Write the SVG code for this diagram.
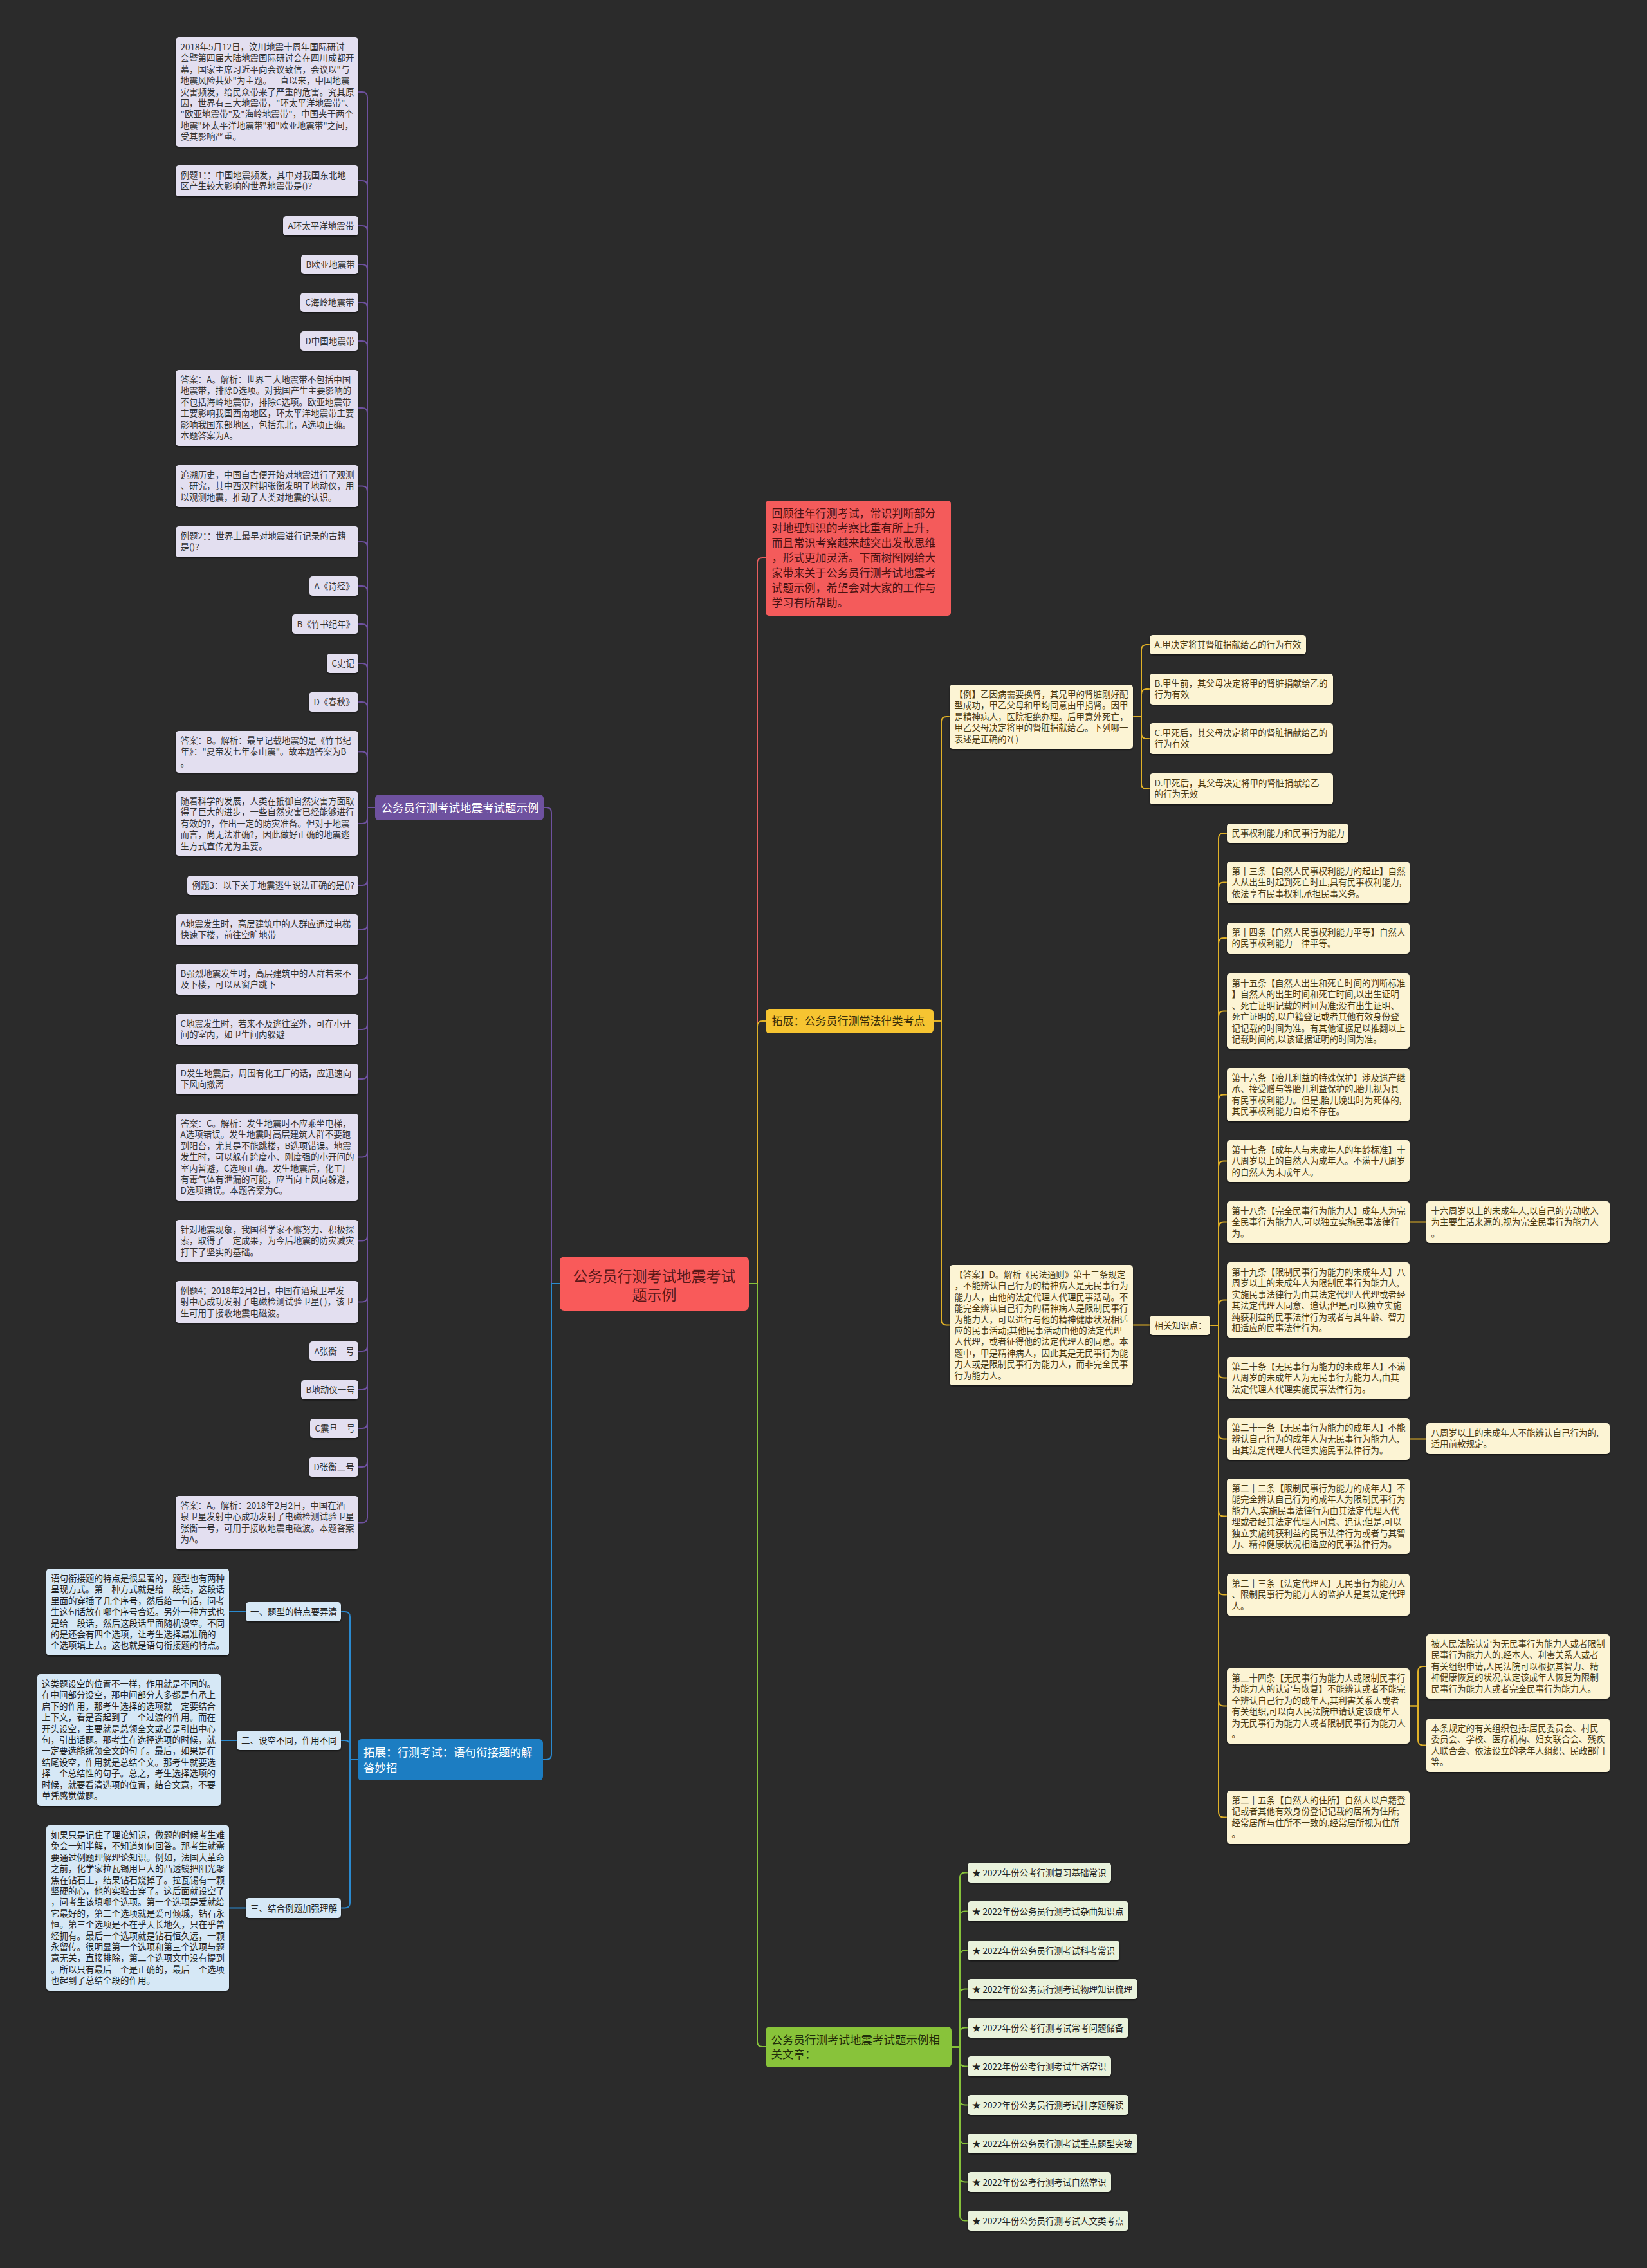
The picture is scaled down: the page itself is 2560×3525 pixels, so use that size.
<svg xmlns="http://www.w3.org/2000/svg" width="2560" height="3525" viewBox="0 0 2560 3525">
<defs>
<style>
text{font-family:"Noto Sans CJK SC","Noto Sans",sans-serif;}
.t{font-size:13.5px;}
.bp{fill:#e3dff0;filter:url(#sh);}
.bb{fill:#d6e8f6;filter:url(#sh);}
.by{fill:#fcf4d4;filter:url(#sh);}
.bg{fill:#e9f2dc;filter:url(#sh);}
.tp{fill:#333333;}
.tb{fill:#222222;}
.ty{fill:#4a3a12;}
.tg{fill:#222222;}
.cp{fill:none;stroke:#6e519f;stroke-width:2;}
.cb{fill:none;stroke:#2a8ad0;stroke-width:2;}
.cr{fill:none;stroke:#e65e5e;stroke-width:2;}
.cy{fill:none;stroke:#e0b127;stroke-width:2;}
.cg{fill:none;stroke:#86c23a;stroke-width:2;}
</style>
<filter id="sh" x="-5%" y="-5%" width="110%" height="120%">
<feDropShadow dx="0" dy="1.5" stdDeviation="0.8" flood-color="#000" flood-opacity="0.55"/>
</filter>
</defs>
<rect x="0" y="0" width="2560" height="3525" fill="#2b2b2b"/>

<g id="connectors">
<path class="cp" d="M870 1995H857V1263Q857 1255 849 1255H845"/>
<path class="cb" d="M870 1995H857V2727Q857 2735 849 2735H844"/>
<path class="cr" d="M1164 1995H1177V875Q1177 867 1185 867H1190"/>
<path class="cy" d="M1164 1995H1177V1595Q1177 1587 1185 1587H1190"/>
<path class="cg" d="M1164 1995H1177V3173Q1177 3181 1185 3181H1190"/>

<path class="cp" d="M583 1255H571V151Q571 143 563 143H557"/>
<path class="cp" d="M583 1255H571V289Q571 281 563 281H557"/>
<path class="cp" d="M583 1255H571V359Q571 351 563 351H557"/>
<path class="cp" d="M583 1255H571V419Q571 411 563 411H557"/>
<path class="cp" d="M583 1255H571V478Q571 470 563 470H557"/>
<path class="cp" d="M583 1255H571V538Q571 530 563 530H557"/>
<path class="cp" d="M583 1255H571V642Q571 634 563 634H557"/>
<path class="cp" d="M583 1255H571V763.5Q571 755.5 563 755.5H557"/>
<path class="cp" d="M583 1255H571V850Q571 842 563 842H557"/>
<path class="cp" d="M583 1255H571V919Q571 911 563 911H557"/>
<path class="cp" d="M583 1255H571V978Q571 970 563 970H557"/>
<path class="cp" d="M583 1255H571V1039Q571 1031 563 1031H557"/>
<path class="cp" d="M583 1255H571V1099Q571 1091 563 1091H557"/>
<path class="cp" d="M583 1255H571V1176.5Q571 1168.5 563 1168.5H557"/>
<path class="cp" d="M583 1255H571V1272Q571 1280 563 1280H557"/>
<path class="cp" d="M583 1255H571V1368Q571 1376 563 1376H557"/>
<path class="cp" d="M583 1255H571V1437Q571 1445 563 1445H557"/>
<path class="cp" d="M583 1255H571V1514Q571 1522 563 1522H557"/>
<path class="cp" d="M583 1255H571V1592Q571 1600 563 1600H557"/>
<path class="cp" d="M583 1255H571V1669Q571 1677 563 1677H557"/>
<path class="cp" d="M583 1255H571V1790.5Q571 1798.5 563 1798.5H557"/>
<path class="cp" d="M583 1255H571V1920.5Q571 1928.5 563 1928.5H557"/>
<path class="cp" d="M583 1255H571V2015.5Q571 2023.5 563 2023.5H557"/>
<path class="cp" d="M583 1255H571V2092Q571 2100 563 2100H557"/>
<path class="cp" d="M583 1255H571V2152Q571 2160 563 2160H557"/>
<path class="cp" d="M583 1255H571V2212Q571 2220 563 2220H557"/>
<path class="cp" d="M583 1255H571V2272Q571 2280 563 2280H557"/>
<path class="cp" d="M583 1255H571V2358.5Q571 2366.5 563 2366.5H557"/>

<path class="cb" d="M556 2735H544V2513Q544 2505 536 2505H530"/>
<path class="cb" d="M556 2735H544V2713Q544 2705 536 2705H530"/>
<path class="cb" d="M556 2735H544V2957.5Q544 2965.5 536 2965.5H530"/>
<path class="cb" d="M382 2505H356"/>
<path class="cb" d="M368 2705H343"/>
<path class="cb" d="M382 2965.5H356"/>

<path class="cy" d="M1451 1587H1463V1122Q1463 1114 1471 1114H1476"/>
<path class="cy" d="M1451 1587H1463V2051.5Q1463 2059.5 1471 2059.5H1476"/>
<path class="cy" d="M1761 1114H1774V1010Q1774 1002 1782 1002H1787"/>
<path class="cy" d="M1761 1114H1774V1079Q1774 1071 1782 1071H1787"/>
<path class="cy" d="M1761 1114H1774V1140Q1774 1148 1782 1148H1787"/>
<path class="cy" d="M1761 1114H1774V1218Q1774 1226 1782 1226H1787"/>
<path class="cy" d="M1761 2059.5H1787"/>
<path class="cy" d="M1881 2060H1894V1303Q1894 1295 1902 1295H1907"/>
<path class="cy" d="M1881 2060H1894V1379.5Q1894 1371.5 1902 1371.5H1907"/>
<path class="cy" d="M1881 2060H1894V1466Q1894 1458 1902 1458H1907"/>
<path class="cy" d="M1881 2060H1894V1579.5Q1894 1571.5 1902 1571.5H1907"/>
<path class="cy" d="M1881 2060H1894V1709.5Q1894 1701.5 1902 1701.5H1907"/>
<path class="cy" d="M1881 2060H1894V1812.5Q1894 1804.5 1902 1804.5H1907"/>
<path class="cy" d="M1881 2060H1894V1907.5Q1894 1899.5 1902 1899.5H1907"/>
<path class="cy" d="M1881 2060H1894V2028.5Q1894 2020.5 1902 2020.5H1907"/>
<path class="cy" d="M1881 2060H1894V2133.5Q1894 2141.5 1902 2141.5H1907"/>
<path class="cy" d="M1881 2060H1894V2228.5Q1894 2236.5 1902 2236.5H1907"/>
<path class="cy" d="M1881 2060H1894V2348.5Q1894 2356.5 1902 2356.5H1907"/>
<path class="cy" d="M1881 2060H1894V2470.5Q1894 2478.5 1902 2478.5H1907"/>
<path class="cy" d="M1881 2060H1894V2643.5Q1894 2651.5 1902 2651.5H1907"/>
<path class="cy" d="M1881 2060H1894V2816.5Q1894 2824.5 1902 2824.5H1907"/>
<path class="cy" d="M2191 1899.5H2217"/>
<path class="cy" d="M2191 2236.5H2217"/>
<path class="cy" d="M2191 2651.5H2204V2598Q2204 2590 2212 2590H2217"/>
<path class="cy" d="M2191 2651.5H2204V2704.5Q2204 2712.5 2212 2712.5H2217"/>

<path class="cg" d="M1479 3181.5H1492V2918.5Q1492 2910.5 1500 2910.5H1504"/>
<path class="cg" d="M1479 3181.5H1492V2978.5Q1492 2970.5 1500 2970.5H1504"/>
<path class="cg" d="M1479 3181.5H1492V3039.5Q1492 3031.5 1500 3031.5H1504"/>
<path class="cg" d="M1479 3181.5H1492V3099.5Q1492 3091.5 1500 3091.5H1504"/>
<path class="cg" d="M1479 3181.5H1492V3159.5Q1492 3151.5 1500 3151.5H1504"/>
<path class="cg" d="M1479 3181.5H1492V3203.5Q1492 3211.5 1500 3211.5H1504"/>
<path class="cg" d="M1479 3181.5H1492V3263.5Q1492 3271.5 1500 3271.5H1504"/>
<path class="cg" d="M1479 3181.5H1492V3323.5Q1492 3331.5 1500 3331.5H1504"/>
<path class="cg" d="M1479 3181.5H1492V3383.5Q1492 3391.5 1500 3391.5H1504"/>
<path class="cg" d="M1479 3181.5H1492V3443.5Q1492 3451.5 1500 3451.5H1504"/>
</g>

<g id="center"><rect x="870" y="1953" width="294" height="84" rx="7" fill="#f95a5a"/><text font-size="23" fill="#5a1818" text-anchor="middle"><tspan x="1017" y="1992">公务员行测考试地震考试</tspan><tspan x="1017" y="2021">题示例</tspan></text></g>

<g id="intro"><rect x="1190" y="778" width="288" height="179" rx="5" fill="#f45b5b"/><text font-size="17" fill="#4a1212"><tspan x="1199.5" y="803.5">回顾往年行测考试，常识判断部分</tspan><tspan x="1199.5" dy="23.3">对地理知识的考察比重有所上升，</tspan><tspan x="1199.5" dy="23.3">而且常识考察越来越突出发散思维</tspan><tspan x="1199.5" dy="23.3">，形式更加灵活。下面树图网给大</tspan><tspan x="1199.5" dy="23.3">家带来关于公务员行测考试地震考</tspan><tspan x="1199.5" dy="23.3">试题示例，希望会对大家的工作与</tspan><tspan x="1199.5" dy="23.3">学习有所帮助。</tspan></text></g>

<g id="branch-purple"><rect x="583" y="1235" width="262" height="40" rx="6" fill="#6e519f"/><text x="592.5" y="1261.5" font-size="17.5" fill="#ffffff">公务员行测考试地震考试题示例</text></g>

<g id="p1"><rect class="bp" x="273" y="58" width="284" height="170" rx="5"/><text class="t tp" y="78"><tspan x="280.5">2018年5月12日，汶川地震十周年国际研讨</tspan><tspan x="280.5" dy="17.4">会暨第四届大陆地震国际研讨会在四川成都开</tspan><tspan x="280.5" dy="17.4">幕，国家主席习近平向会议致信，会议以"与</tspan><tspan x="280.5" dy="17.4">地震风险共处"为主题。一直以来，中国地震</tspan><tspan x="280.5" dy="17.4">灾害频发，给民众带来了严重的危害。究其原</tspan><tspan x="280.5" dy="17.4">因，世界有三大地震带，"环太平洋地震带"、</tspan><tspan x="280.5" dy="17.4">"欧亚地震带"及"海岭地震带"，中国夹于两个</tspan><tspan x="280.5" dy="17.4">地震"环太平洋地震带"和"欧亚地震带"之间，</tspan><tspan x="280.5" dy="17.4">受其影响严重。</tspan></text></g>
<g id="p2"><rect class="bp" x="273" y="257" width="284" height="48" rx="5"/><text class="t tp" y="277"><tspan x="280.5">例题1：：中国地震频发，其中对我国东北地</tspan><tspan x="280.5" dy="17.4">区产生较大影响的世界地震带是()?</tspan></text></g>
<g id="p3"><rect class="bp" x="440" y="336" width="117" height="30" rx="5"/><text class="t tp" x="447.5" y="356">A环太平洋地震带</text></g>
<g id="p4"><rect class="bp" x="468" y="396" width="89" height="30" rx="5"/><text class="t tp" x="475.5" y="416">B欧亚地震带</text></g>
<g id="p5"><rect class="bp" x="467" y="455" width="90" height="30" rx="5"/><text class="t tp" x="474.5" y="475">C海岭地震带</text></g>
<g id="p6"><rect class="bp" x="467" y="515" width="90" height="30" rx="5"/><text class="t tp" x="474.5" y="535">D中国地震带</text></g>
<g id="p7"><rect class="bp" x="273" y="575" width="284" height="118" rx="5"/><text class="t tp" y="595"><tspan x="280.5">答案：A。解析：世界三大地震带不包括中国</tspan><tspan x="280.5" dy="17.4">地震带，排除D选项。对我国产生主要影响的</tspan><tspan x="280.5" dy="17.4">不包括海岭地震带，排除C选项。欧亚地震带</tspan><tspan x="280.5" dy="17.4">主要影响我国西南地区，环太平洋地震带主要</tspan><tspan x="280.5" dy="17.4">影响我国东部地区，包括东北，A选项正确。</tspan><tspan x="280.5" dy="17.4">本题答案为A。</tspan></text></g>
<g id="p8"><rect class="bp" x="273" y="723" width="284" height="65" rx="5"/><text class="t tp" y="743"><tspan x="280.5">追溯历史，中国自古便开始对地震进行了观测</tspan><tspan x="280.5" dy="17.4">、研究，其中西汉时期张衡发明了地动仪，用</tspan><tspan x="280.5" dy="17.4">以观测地震，推动了人类对地震的认识。</tspan></text></g>
<g id="p9"><rect class="bp" x="273" y="818" width="284" height="48" rx="5"/><text class="t tp" y="838"><tspan x="280.5">例题2：：世界上最早对地震进行记录的古籍</tspan><tspan x="280.5" dy="17.4">是()?</tspan></text></g>
<g id="p10"><rect class="bp" x="481" y="896" width="76" height="30" rx="5"/><text class="t tp" x="488.5" y="916">A《诗经》</text></g>
<g id="p11"><rect class="bp" x="454" y="955" width="103" height="30" rx="5"/><text class="t tp" x="461.5" y="975">B《竹书纪年》</text></g>
<g id="p12"><rect class="bp" x="508" y="1016" width="49" height="30" rx="5"/><text class="t tp" x="515.5" y="1036">C史记</text></g>
<g id="p13"><rect class="bp" x="480" y="1076" width="77" height="30" rx="5"/><text class="t tp" x="487.5" y="1096">D《春秋》</text></g>
<g id="p14"><rect class="bp" x="273" y="1136" width="284" height="65" rx="5"/><text class="t tp" y="1156"><tspan x="280.5">答案：B。解析：最早记载地震的是《竹书纪</tspan><tspan x="280.5" dy="17.4">年》："夏帝发七年泰山震"。故本题答案为B</tspan><tspan x="280.5" dy="17.4">。</tspan></text></g>
<g id="p15"><rect class="bp" x="273" y="1230" width="284" height="100" rx="5"/><text class="t tp" y="1250"><tspan x="280.5">随着科学的发展，人类在抵御自然灾害方面取</tspan><tspan x="280.5" dy="17.4">得了巨大的进步，一些自然灾害已经能够进行</tspan><tspan x="280.5" dy="17.4">有效的?，作出一定的防灾准备。但对于地震</tspan><tspan x="280.5" dy="17.4">而言，尚无法准确?，因此做好正确的地震逃</tspan><tspan x="280.5" dy="17.4">生方式宣传尤为重要。</tspan></text></g>
<g id="p16"><rect class="bp" x="291" y="1361" width="266" height="30" rx="5"/><text class="t tp" x="298.5" y="1381">例题3：以下关于地震逃生说法正确的是()?</text></g>
<g id="p17"><rect class="bp" x="273" y="1421" width="284" height="48" rx="5"/><text class="t tp" y="1441"><tspan x="280.5">A地震发生时，高层建筑中的人群应通过电梯</tspan><tspan x="280.5" dy="17.4">快速下楼，前往空旷地带</tspan></text></g>
<g id="p18"><rect class="bp" x="273" y="1498" width="284" height="48" rx="5"/><text class="t tp" y="1518"><tspan x="280.5">B强烈地震发生时，高层建筑中的人群若来不</tspan><tspan x="280.5" dy="17.4">及下楼，可以从窗户跳下</tspan></text></g>
<g id="p19"><rect class="bp" x="273" y="1576" width="284" height="48" rx="5"/><text class="t tp" y="1596"><tspan x="280.5">C地震发生时，若来不及逃往室外，可在小开</tspan><tspan x="280.5" dy="17.4">间的室内，如卫生间内躲避</tspan></text></g>
<g id="p20"><rect class="bp" x="273" y="1653" width="284" height="48" rx="5"/><text class="t tp" y="1673"><tspan x="280.5">D发生地震后，周围有化工厂的话，应迅速向</tspan><tspan x="280.5" dy="17.4">下风向撤离</tspan></text></g>
<g id="p21"><rect class="bp" x="273" y="1731" width="284" height="135" rx="5"/><text class="t tp" y="1751"><tspan x="280.5">答案：C。解析：发生地震时不应乘坐电梯，</tspan><tspan x="280.5" dy="17.4">A选项错误。发生地震时高层建筑人群不要跑</tspan><tspan x="280.5" dy="17.4">到阳台，尤其是不能跳楼，B选项错误。地震</tspan><tspan x="280.5" dy="17.4">发生时，可以躲在跨度小、刚度强的小开间的</tspan><tspan x="280.5" dy="17.4">室内暂避，C选项正确。发生地震后，化工厂</tspan><tspan x="280.5" dy="17.4">有毒气体有泄漏的可能，应当向上风向躲避，</tspan><tspan x="280.5" dy="17.4">D选项错误。本题答案为C。</tspan></text></g>
<g id="p22"><rect class="bp" x="273" y="1896" width="284" height="65" rx="5"/><text class="t tp" y="1916"><tspan x="280.5">针对地震现象，我国科学家不懈努力、积极探</tspan><tspan x="280.5" dy="17.4">索，取得了一定成果，为今后地震的防灾减灾</tspan><tspan x="280.5" dy="17.4">打下了坚实的基础。</tspan></text></g>
<g id="p23"><rect class="bp" x="273" y="1991" width="284" height="65" rx="5"/><text class="t tp" y="2011"><tspan x="280.5">例题4：2018年2月2日，中国在酒泉卫星发</tspan><tspan x="280.5" dy="17.4">射中心成功发射了电磁检测试验卫星( )，该卫</tspan><tspan x="280.5" dy="17.4">生可用于接收地震电磁波。</tspan></text></g>
<g id="p24"><rect class="bp" x="481" y="2085" width="76" height="30" rx="5"/><text class="t tp" x="488.5" y="2105">A张衡一号</text></g>
<g id="p25"><rect class="bp" x="468" y="2145" width="89" height="30" rx="5"/><text class="t tp" x="475.5" y="2165">B地动仪一号</text></g>
<g id="p26"><rect class="bp" x="482" y="2205" width="75" height="30" rx="5"/><text class="t tp" x="489.5" y="2225">C震旦一号</text></g>
<g id="p27"><rect class="bp" x="480" y="2265" width="77" height="30" rx="5"/><text class="t tp" x="487.5" y="2285">D张衡二号</text></g>
<g id="p28"><rect class="bp" x="273" y="2325" width="284" height="83" rx="5"/><text class="t tp" y="2345"><tspan x="280.5">答案：A。解析：2018年2月2日，中国在酒</tspan><tspan x="280.5" dy="17.4">泉卫星发射中心成功发射了电磁检测试验卫星</tspan><tspan x="280.5" dy="17.4">张衡一号，可用于接收地震电磁波。本题答案</tspan><tspan x="280.5" dy="17.4">为A。</tspan></text></g>

<g id="branch-blue"><rect x="556" y="2703" width="288" height="64" rx="6" fill="#1c7dc2"/><text font-size="17.5" fill="#ffffff"><tspan x="565" y="2730">拓展：行测考试：语句衔接题的解</tspan><tspan x="565" y="2753.5">答妙招</tspan></text></g>
<g id="b1"><rect class="bb" x="382" y="2490" width="148" height="30" rx="5"/><text class="t tb" x="389" y="2510">一、题型的特点要弄清</text></g>
<g id="b2"><rect class="bb" x="368" y="2690" width="162" height="30" rx="5"/><text class="t tb" x="375" y="2710">二、设空不同，作用不同</text></g>
<g id="b3"><rect class="bb" x="382" y="2950" width="148" height="31" rx="5"/><text class="t tb" x="389" y="2970.5">三、结合例题加强理解</text></g>
<g id="b1d"><rect class="bb" x="72" y="2438" width="284" height="135" rx="5"/><text class="t tb" y="2458"><tspan x="79">语句衔接题的特点是很显著的，题型也有两种</tspan><tspan x="79" dy="17.4">呈现方式。第一种方式就是给一段话，这段话</tspan><tspan x="79" dy="17.4">里面的穿插了几个序号，然后给一句话，问考</tspan><tspan x="79" dy="17.4">生这句话放在哪个序号合适。另外一种方式也</tspan><tspan x="79" dy="17.4">是给一段话，然后这段话里面随机设空。不同</tspan><tspan x="79" dy="17.4">的是还会有四个选项，让考生选择最准确的一</tspan><tspan x="79" dy="17.4">个选项填上去。这也就是语句衔接题的特点。</tspan></text></g>
<g id="b2d"><rect class="bb" x="58" y="2602" width="285" height="205" rx="5"/><text class="t tb" y="2622"><tspan x="65">这类题设空的位置不一样，作用就是不同的。</tspan><tspan x="65" dy="17.4">在中间部分设空，那中间部分大多都是有承上</tspan><tspan x="65" dy="17.4">启下的作用，那考生选择的选项就一定要结合</tspan><tspan x="65" dy="17.4">上下文，看是否起到了一个过渡的作用。而在</tspan><tspan x="65" dy="17.4">开头设空，主要就是总领全文或者是引出中心</tspan><tspan x="65" dy="17.4">句，引出话题。那考生在选择选项的时候，就</tspan><tspan x="65" dy="17.4">一定要选能统领全文的句子。最后，如果是在</tspan><tspan x="65" dy="17.4">结尾设空，作用就是总结全文。那考生就要选</tspan><tspan x="65" dy="17.4">择一个总结性的句子。总之，考生选择选项的</tspan><tspan x="65" dy="17.4">时候，就要看清选项的位置，结合文意，不要</tspan><tspan x="65" dy="17.4">单凭感觉做题。</tspan></text></g>
<g id="b3d"><rect class="bb" x="72" y="2837" width="284" height="257" rx="5"/><text class="t tb" y="2857"><tspan x="79">如果只是记住了理论知识，做题的时候考生难</tspan><tspan x="79" dy="17.4">免会一知半解，不知道如何回答。那考生就需</tspan><tspan x="79" dy="17.4">要通过例题理解理论知识。例如，法国大革命</tspan><tspan x="79" dy="17.4">之前，化学家拉瓦锡用巨大的凸透镜把阳光聚</tspan><tspan x="79" dy="17.4">焦在钻石上，结果钻石烧掉了。拉瓦锡有一颗</tspan><tspan x="79" dy="17.4">坚硬的心，他的实验击穿了。这后面就设空了</tspan><tspan x="79" dy="17.4">，问考生该填哪个选项。第一个选项是爱就给</tspan><tspan x="79" dy="17.4">它最好的，第二个选项就是爱可倾城，钻石永</tspan><tspan x="79" dy="17.4">恒。第三个选项是不在乎天长地久，只在乎曾</tspan><tspan x="79" dy="17.4">经拥有。最后一个选项就是钻石恒久远，一颗</tspan><tspan x="79" dy="17.4">永留传。很明显第一个选项和第三个选项与题</tspan><tspan x="79" dy="17.4">意无关，直接排除，第二个选项文中没有提到</tspan><tspan x="79" dy="17.4">。所以只有最后一个是正确的，最后一个选项</tspan><tspan x="79" dy="17.4">也起到了总结全段的作用。</tspan></text></g>

<g id="branch-yellow"><rect x="1190" y="1568" width="261" height="38" rx="6" fill="#f6c431"/><text x="1199.5" y="1592.5" font-size="17" fill="#3b2f0a">拓展：公务员行测常法律类考点</text></g>
<g id="y-ex"><rect class="by" x="1476" y="1064" width="285" height="100" rx="5"/><text class="t ty" y="1084"><tspan x="1483.5">【例】乙因病需要换肾，其兄甲的肾脏刚好配</tspan><tspan x="1483.5" dy="17.4">型成功，甲乙父母和甲均同意由甲捐肾。因甲</tspan><tspan x="1483.5" dy="17.4">是精神病人，医院拒绝办理。后甲意外死亡，</tspan><tspan x="1483.5" dy="17.4">甲乙父母决定将甲的肾脏捐献给乙。下列哪一</tspan><tspan x="1483.5" dy="17.4">表述是正确的?( )</tspan></text></g>
<g id="y-a"><rect class="by" x="1787" y="987" width="243" height="30" rx="5"/><text class="t ty" x="1794.5" y="1007">A.甲决定将其肾脏捐献给乙的行为有效</text></g>
<g id="y-b"><rect class="by" x="1787" y="1047" width="285" height="48" rx="5"/><text class="t ty" y="1067"><tspan x="1794.5">B.甲生前，其父母决定将甲的肾脏捐献给乙的</tspan><tspan x="1794.5" dy="17.4">行为有效</tspan></text></g>
<g id="y-c"><rect class="by" x="1787" y="1124" width="285" height="48" rx="5"/><text class="t ty" y="1144"><tspan x="1794.5">C.甲死后，其父母决定将甲的肾脏捐献给乙的</tspan><tspan x="1794.5" dy="17.4">行为有效</tspan></text></g>
<g id="y-d"><rect class="by" x="1787" y="1202" width="285" height="48" rx="5"/><text class="t ty" y="1222"><tspan x="1794.5">D.甲死后，其父母决定将甲的肾脏捐献给乙</tspan><tspan x="1794.5" dy="17.4">的行为无效</tspan></text></g>
<g id="y-ans"><rect class="by" x="1476" y="1966" width="285" height="187" rx="5"/><text class="t ty" y="1986"><tspan x="1483.5">【答案】D。解析《民法通则》第十三条规定</tspan><tspan x="1483.5" dy="17.4">，不能辨认自己行为的精神病人是无民事行为</tspan><tspan x="1483.5" dy="17.4">能力人，由他的法定代理人代理民事活动。不</tspan><tspan x="1483.5" dy="17.4">能完全辨认自己行为的精神病人是限制民事行</tspan><tspan x="1483.5" dy="17.4">为能力人，可以进行与他的精神健康状况相适</tspan><tspan x="1483.5" dy="17.4">应的民事活动;其他民事活动由他的法定代理</tspan><tspan x="1483.5" dy="17.4">人代理，或者征得他的法定代理人的同意。本</tspan><tspan x="1483.5" dy="17.4">题中，甲是精神病人，因此其是无民事行为能</tspan><tspan x="1483.5" dy="17.4">力人或是限制民事行为能力人，而非完全民事</tspan><tspan x="1483.5" dy="17.4">行为能力人。</tspan></text></g>
<g id="y-rel"><rect class="by" x="1787" y="2045" width="94" height="30" rx="5"/><text class="t ty" x="1794.5" y="2065">相关知识点：</text></g>
<g id="k0"><rect class="by" x="1907" y="1280" width="189" height="30" rx="5"/><text class="t ty" x="1914.5" y="1300">民事权利能力和民事行为能力</text></g>
<g id="k13"><rect class="by" x="1907" y="1339" width="284" height="65" rx="5"/><text class="t ty" y="1359"><tspan x="1914.5">第十三条【自然人民事权利能力的起止】自然</tspan><tspan x="1914.5" dy="17.4">人从出生时起到死亡时止,具有民事权利能力,</tspan><tspan x="1914.5" dy="17.4">依法享有民事权利,承担民事义务。</tspan></text></g>
<g id="k14"><rect class="by" x="1907" y="1434" width="284" height="48" rx="5"/><text class="t ty" y="1454"><tspan x="1914.5">第十四条【自然人民事权利能力平等】自然人</tspan><tspan x="1914.5" dy="17.4">的民事权利能力一律平等。</tspan></text></g>
<g id="k15"><rect class="by" x="1907" y="1513" width="284" height="117" rx="5"/><text class="t ty" y="1533"><tspan x="1914.5">第十五条【自然人出生和死亡时间的判断标准</tspan><tspan x="1914.5" dy="17.4">】自然人的出生时间和死亡时间,以出生证明</tspan><tspan x="1914.5" dy="17.4">、死亡证明记载的时间为准;没有出生证明、</tspan><tspan x="1914.5" dy="17.4">死亡证明的,以户籍登记或者其他有效身份登</tspan><tspan x="1914.5" dy="17.4">记记载的时间为准。有其他证据足以推翻以上</tspan><tspan x="1914.5" dy="17.4">记载时间的,以该证据证明的时间为准。</tspan></text></g>
<g id="k16"><rect class="by" x="1907" y="1660" width="284" height="83" rx="5"/><text class="t ty" y="1680"><tspan x="1914.5">第十六条【胎儿利益的特殊保护】涉及遗产继</tspan><tspan x="1914.5" dy="17.4">承、接受赠与等胎儿利益保护的,胎儿视为具</tspan><tspan x="1914.5" dy="17.4">有民事权利能力。但是,胎儿娩出时为死体的,</tspan><tspan x="1914.5" dy="17.4">其民事权利能力自始不存在。</tspan></text></g>
<g id="k17"><rect class="by" x="1907" y="1772" width="284" height="65" rx="5"/><text class="t ty" y="1792"><tspan x="1914.5">第十七条【成年人与未成年人的年龄标准】十</tspan><tspan x="1914.5" dy="17.4">八周岁以上的自然人为成年人。不满十八周岁</tspan><tspan x="1914.5" dy="17.4">的自然人为未成年人。</tspan></text></g>
<g id="k18"><rect class="by" x="1907" y="1867" width="284" height="65" rx="5"/><text class="t ty" y="1887"><tspan x="1914.5">第十八条【完全民事行为能力人】成年人为完</tspan><tspan x="1914.5" dy="17.4">全民事行为能力人,可以独立实施民事法律行</tspan><tspan x="1914.5" dy="17.4">为。</tspan></text></g>
<g id="k18c"><rect class="by" x="2217" y="1867" width="285" height="65" rx="5"/><text class="t ty" y="1887"><tspan x="2224.5">十六周岁以上的未成年人,以自己的劳动收入</tspan><tspan x="2224.5" dy="17.4">为主要生活来源的,视为完全民事行为能力人</tspan><tspan x="2224.5" dy="17.4">。</tspan></text></g>
<g id="k19"><rect class="by" x="1907" y="1962" width="284" height="117" rx="5"/><text class="t ty" y="1982"><tspan x="1914.5">第十九条【限制民事行为能力的未成年人】八</tspan><tspan x="1914.5" dy="17.4">周岁以上的未成年人为限制民事行为能力人,</tspan><tspan x="1914.5" dy="17.4">实施民事法律行为由其法定代理人代理或者经</tspan><tspan x="1914.5" dy="17.4">其法定代理人同意、追认;但是,可以独立实施</tspan><tspan x="1914.5" dy="17.4">纯获利益的民事法律行为或者与其年龄、智力</tspan><tspan x="1914.5" dy="17.4">相适应的民事法律行为。</tspan></text></g>
<g id="k20"><rect class="by" x="1907" y="2109" width="284" height="65" rx="5"/><text class="t ty" y="2129"><tspan x="1914.5">第二十条【无民事行为能力的未成年人】不满</tspan><tspan x="1914.5" dy="17.4">八周岁的未成年人为无民事行为能力人,由其</tspan><tspan x="1914.5" dy="17.4">法定代理人代理实施民事法律行为。</tspan></text></g>
<g id="k21"><rect class="by" x="1907" y="2204" width="284" height="65" rx="5"/><text class="t ty" y="2224"><tspan x="1914.5">第二十一条【无民事行为能力的成年人】不能</tspan><tspan x="1914.5" dy="17.4">辨认自己行为的成年人为无民事行为能力人,</tspan><tspan x="1914.5" dy="17.4">由其法定代理人代理实施民事法律行为。</tspan></text></g>
<g id="k21c"><rect class="by" x="2217" y="2212" width="285" height="48" rx="5"/><text class="t ty" y="2232"><tspan x="2224.5">八周岁以上的未成年人不能辨认自己行为的,</tspan><tspan x="2224.5" dy="17.4">适用前款规定。</tspan></text></g>
<g id="k22"><rect class="by" x="1907" y="2298" width="284" height="117" rx="5"/><text class="t ty" y="2318"><tspan x="1914.5">第二十二条【限制民事行为能力的成年人】不</tspan><tspan x="1914.5" dy="17.4">能完全辨认自己行为的成年人为限制民事行为</tspan><tspan x="1914.5" dy="17.4">能力人,实施民事法律行为由其法定代理人代</tspan><tspan x="1914.5" dy="17.4">理或者经其法定代理人同意、追认;但是,可以</tspan><tspan x="1914.5" dy="17.4">独立实施纯获利益的民事法律行为或者与其智</tspan><tspan x="1914.5" dy="17.4">力、精神健康状况相适应的民事法律行为。</tspan></text></g>
<g id="k23"><rect class="by" x="1907" y="2446" width="284" height="65" rx="5"/><text class="t ty" y="2466"><tspan x="1914.5">第二十三条【法定代理人】无民事行为能力人</tspan><tspan x="1914.5" dy="17.4">、限制民事行为能力人的监护人是其法定代理</tspan><tspan x="1914.5" dy="17.4">人。</tspan></text></g>
<g id="k24"><rect class="by" x="1907" y="2593" width="284" height="117" rx="5"/><text class="t ty" y="2613"><tspan x="1914.5">第二十四条【无民事行为能力人或限制民事行</tspan><tspan x="1914.5" dy="17.4">为能力人的认定与恢复】不能辨认或者不能完</tspan><tspan x="1914.5" dy="17.4">全辨认自己行为的成年人,其利害关系人或者</tspan><tspan x="1914.5" dy="17.4">有关组织,可以向人民法院申请认定该成年人</tspan><tspan x="1914.5" dy="17.4">为无民事行为能力人或者限制民事行为能力人</tspan><tspan x="1914.5" dy="17.4">。</tspan></text></g>
<g id="k24c1"><rect class="by" x="2217" y="2540" width="285" height="100" rx="5"/><text class="t ty" y="2560"><tspan x="2224.5">被人民法院认定为无民事行为能力人或者限制</tspan><tspan x="2224.5" dy="17.4">民事行为能力人的,经本人、利害关系人或者</tspan><tspan x="2224.5" dy="17.4">有关组织申请,人民法院可以根据其智力、精</tspan><tspan x="2224.5" dy="17.4">神健康恢复的状况,认定该成年人恢复为限制</tspan><tspan x="2224.5" dy="17.4">民事行为能力人或者完全民事行为能力人。</tspan></text></g>
<g id="k24c2"><rect class="by" x="2217" y="2671" width="285" height="83" rx="5"/><text class="t ty" y="2691"><tspan x="2224.5">本条规定的有关组织包括:居民委员会、村民</tspan><tspan x="2224.5" dy="17.4">委员会、学校、医疗机构、妇女联合会、残疾</tspan><tspan x="2224.5" dy="17.4">人联合会、依法设立的老年人组织、民政部门</tspan><tspan x="2224.5" dy="17.4">等。</tspan></text></g>
<g id="k25"><rect class="by" x="1907" y="2783" width="284" height="83" rx="5"/><text class="t ty" y="2803"><tspan x="1914.5">第二十五条【自然人的住所】自然人以户籍登</tspan><tspan x="1914.5" dy="17.4">记或者其他有效身份登记记载的居所为住所;</tspan><tspan x="1914.5" dy="17.4">经常居所与住所不一致的,经常居所视为住所</tspan><tspan x="1914.5" dy="17.4">。</tspan></text></g>

<g id="branch-green"><rect x="1190" y="3150" width="289" height="63" rx="6" fill="#88c33a"/><text font-size="17.5" fill="#1f2d0a"><tspan x="1198.5" y="3176.5">公务员行测考试地震考试题示例相</tspan><tspan x="1198.5" y="3199">关文章：</tspan></text></g>
<g id="g1"><rect class="bg" x="1504" y="2895" width="223" height="31" rx="5"/><text class="t tg" x="1511" y="2915.5">★ 2022年份公考行测复习基础常识</text></g>
<g id="g2"><rect class="bg" x="1504" y="2955" width="250" height="31" rx="5"/><text class="t tg" x="1511" y="2975.5">★ 2022年份公务员行测考试杂曲知识点</text></g>
<g id="g3"><rect class="bg" x="1504" y="3016" width="236" height="31" rx="5"/><text class="t tg" x="1511" y="3036.5">★ 2022年份公务员行测考试科考常识</text></g>
<g id="g4"><rect class="bg" x="1504" y="3076" width="264" height="31" rx="5"/><text class="t tg" x="1511" y="3096.5">★ 2022年份公务员行测考试物理知识梳理</text></g>
<g id="g5"><rect class="bg" x="1504" y="3136" width="250" height="31" rx="5"/><text class="t tg" x="1511" y="3156.5">★ 2022年份公考行测考试常考问题储备</text></g>
<g id="g6"><rect class="bg" x="1504" y="3196" width="223" height="31" rx="5"/><text class="t tg" x="1511" y="3216.5">★ 2022年份公考行测考试生活常识</text></g>
<g id="g7"><rect class="bg" x="1504" y="3256" width="250" height="31" rx="5"/><text class="t tg" x="1511" y="3276.5">★ 2022年份公务员行测考试排序题解读</text></g>
<g id="g8"><rect class="bg" x="1504" y="3316" width="264" height="31" rx="5"/><text class="t tg" x="1511" y="3336.5">★ 2022年份公务员行测考试重点题型突破</text></g>
<g id="g9"><rect class="bg" x="1504" y="3376" width="223" height="31" rx="5"/><text class="t tg" x="1511" y="3396.5">★ 2022年份公考行测考试自然常识</text></g>
<g id="g10"><rect class="bg" x="1504" y="3436" width="250" height="31" rx="5"/><text class="t tg" x="1511" y="3456.5">★ 2022年份公务员行测考试人文类考点</text></g>
</svg>
